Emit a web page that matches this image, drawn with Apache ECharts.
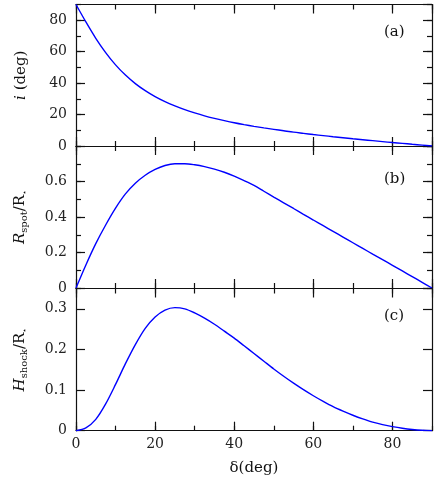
<!DOCTYPE html>
<html>
<head>
<meta charset="utf-8">
<script src="https://cdn.jsdelivr.net/npm/echarts@6/dist/echarts.min.js"></script>
<style>html,body{margin:0;padding:0;background:#fff}#c{width:436px;height:482px}</style>
</head>
<body>
<div id="c"></div>
<script>
// delta (deg)
const delta = [0, 2.5, 5, 7.5, 10, 12.5, 15, 17.5, 20, 22.5, 25, 27.5, 30, 32.5, 35, 37.5, 40, 42.5, 45, 47.5,
  50, 52.5, 55, 57.5, 60, 62.5, 65, 67.5, 70, 72.5, 75, 77.5, 80, 82.5, 85, 87.5, 90];
// (a) inclination i (deg)
const incl = [90, 78.9, 68.5, 59.4, 51.6, 45.1, 39.7, 35.2, 31.4, 28.2, 25.5, 23.1, 21.05, 19.2, 17.6, 16.15, 14.8, 13.6, 12.5, 11.5,
  10.6, 9.7, 8.8, 8.05, 7.3, 6.6, 5.9, 5.25, 4.6, 4.0, 3.4, 2.8, 2.2, 1.7, 1.1, 0.55, 0];
// (b) R_spot / R*
const rspot = [0, 0.13, 0.25, 0.355, 0.45, 0.53, 0.59, 0.635, 0.668, 0.69, 0.70, 0.70, 0.694, 0.684, 0.67, 0.652, 0.63, 0.605, 0.578, 0.545,
  0.512, 0.48, 0.448, 0.415, 0.383, 0.351, 0.319, 0.287, 0.255, 0.223, 0.191, 0.16, 0.128, 0.096, 0.064, 0.032, 0];
// (c) H_shock / R*
const hshock = [0, 0.007, 0.028, 0.066, 0.114, 0.165, 0.212, 0.252, 0.28, 0.297, 0.303, 0.3, 0.29, 0.277, 0.262, 0.245, 0.228, 0.209, 0.19, 0.171,
  0.152, 0.134, 0.117, 0.101, 0.086, 0.072, 0.059, 0.048, 0.038, 0.029, 0.021, 0.015, 0.01, 0.006, 0.003, 0.001, 0];

const xMajor = 20, xMinor = 10, xMax = 90;
const panels = [
  {label: '(a)', data: incl, yMax: 90, yMajor: 20, yMinor: 10,
   name: '{it|i} (deg)'},
  {label: '(b)', data: rspot, yMax: 0.8, yMajor: 0.2, yMinor: 0.1,
   name: '{it|R}{sub|spot}/R{st|⋆}'},
  {label: '(c)', data: hshock, yMax: 0.35, yMajor: 0.1, yMinor: null,
   name: '{it|H}{sub|shock}/R{st|⋆}'}
];

const FONT = 'DejaVu Serif';
const grids = [
  {left: 76, right: 4, top: 4.5, height: 141.5},
  {left: 76, right: 4, top: 146, height: 142},
  {left: 76, right: 4, top: 288.5, height: 142.2}
];
const lineStyle = {color: '#111', width: 1.2};
const richName = {
  it: {fontFamily: FONT, fontStyle: 'italic', fontSize: 15, color: '#111'},
  sub: {fontFamily: FONT, fontSize: 10, color: '#111', padding: [7, 0, 0, 0]},
  st: {fontFamily: FONT, fontSize: 8, color: '#111', padding: [8, 0, 0, 0]}
};

const xAxes = [], yAxes = [], series = [], graphics = [];
panels.forEach((p, g) => {
  const isLast = g === panels.length - 1;
  ['bottom', 'top'].forEach(pos => {
    xAxes.push({
      type: 'value', gridIndex: g, position: pos, min: 0, max: xMax, interval: xMajor,
      axisLine: {show: true, onZero: false, lineStyle},
      axisTick: {show: true, inside: true, length: 9, lineStyle},
      axisLabel: {show: isLast && pos === 'bottom', showMaxLabel: false, margin: 7,
        fontFamily: FONT, fontSize: 14, color: '#222'},
      splitLine: {show: false},
      name: (isLast && pos === 'bottom') ? 'δ(deg)' : '',
      nameLocation: 'middle', nameGap: 30,
      nameTextStyle: {fontFamily: FONT, fontSize: 15, color: '#111'}
    });
    xAxes.push({
      type: 'value', gridIndex: g, position: pos, min: 0, max: xMax, interval: xMinor,
      axisLine: {show: false, onZero: false},
      axisTick: {show: true, inside: true, length: 5, lineStyle},
      axisLabel: {show: false}, splitLine: {show: false}
    });
  });
  ['left', 'right'].forEach(pos => {
    yAxes.push({
      type: 'value', gridIndex: g, position: pos, min: 0, max: p.yMax, interval: p.yMajor,
      axisLine: {show: true, onZero: false, lineStyle},
      axisTick: {show: true, inside: true, length: 9, lineStyle},
      axisLabel: {show: pos === 'left', showMaxLabel: false, margin: 9,
        fontFamily: FONT, fontSize: 14, color: '#222'},
      splitLine: {show: false},
      name: pos === 'left' ? p.name : '',
      nameLocation: 'middle', nameGap: 47, nameRotate: 90,
      nameTextStyle: {fontFamily: FONT, fontSize: 15, color: '#111', rich: richName}
    });
    if (p.yMinor) {
      yAxes.push({
        type: 'value', gridIndex: g, position: pos, min: 0, max: p.yMax, interval: p.yMinor,
        axisLine: {show: false, onZero: false},
        axisTick: {show: true, inside: true, length: 5, lineStyle},
        axisLabel: {show: false}, splitLine: {show: false}
      });
    }
  });
  const xIdx = xAxes.findIndex(a => a.gridIndex === g);
  const yIdx = yAxes.findIndex(a => a.gridIndex === g);
  series.push({
    type: 'line', xAxisIndex: xIdx, yAxisIndex: yIdx,
    data: delta.map((d, k) => [d, p.data[k]]),
    smooth: 0.3, showSymbol: false, symbol: 'none',
    lineStyle: {color: '#0000ff', width: 1.4}, z: 1
  });
});

graphics.push(
  {type: 'text', left: 384, top: 25, style: {text: '(a)', font: '15px "DejaVu Serif"', fill: '#111'}},
  {type: 'text', left: 384, top: 172, style: {text: '(b)', font: '15px "DejaVu Serif"', fill: '#111'}},
  {type: 'text', left: 384, top: 309, style: {text: '(c)', font: '15px "DejaVu Serif"', fill: '#111'}}
);

const chart = echarts.init(document.getElementById('c'), null, {renderer: 'canvas'});
chart.setOption({
  animation: false,
  backgroundColor: '#fff',
  grid: grids,
  xAxis: xAxes,
  yAxis: yAxes,
  series: series,
  graphic: graphics
});
</script>
</body>
</html>
